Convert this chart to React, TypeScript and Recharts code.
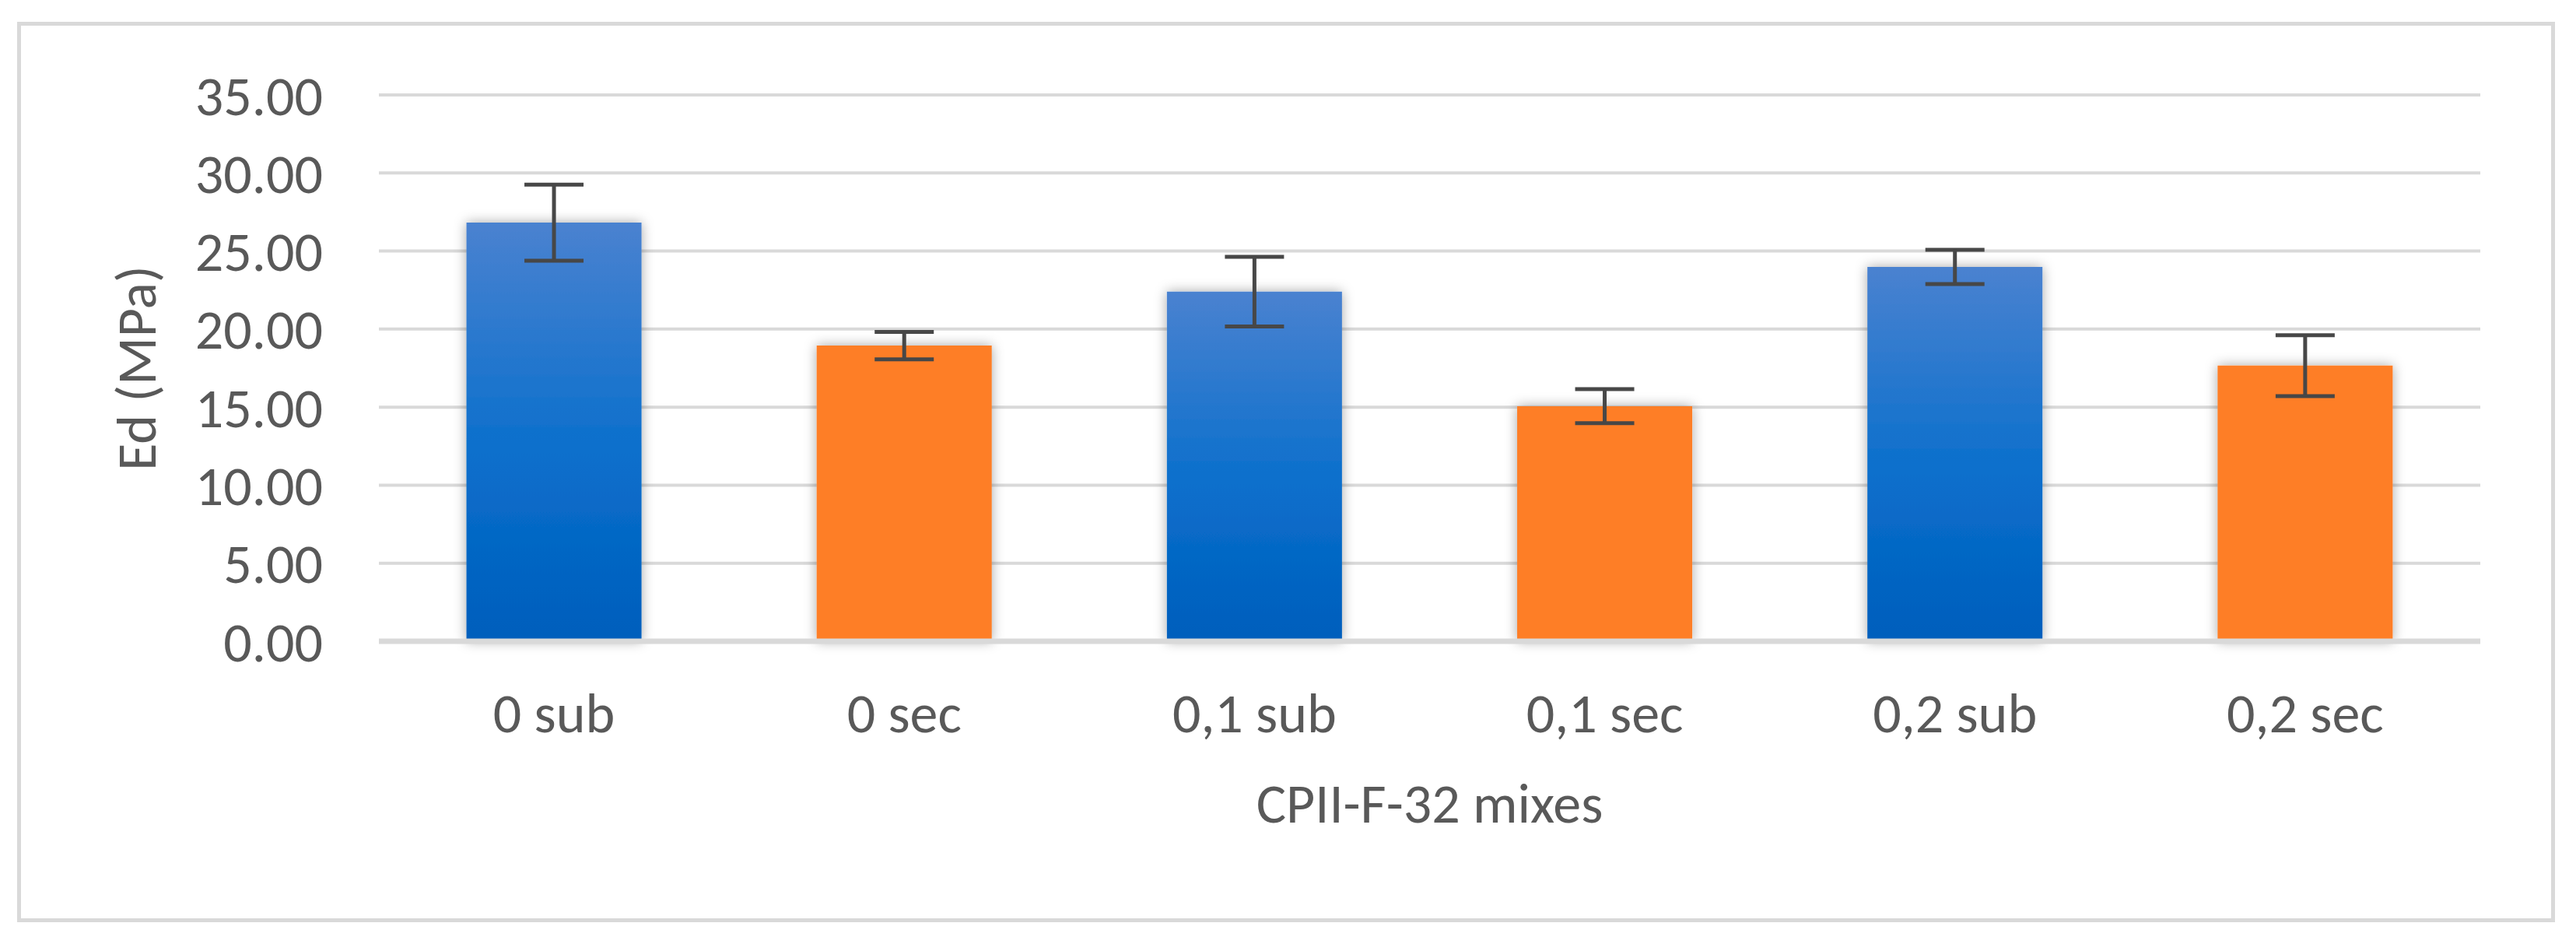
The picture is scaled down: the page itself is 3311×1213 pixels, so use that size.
import React from 'react';
import { BarChart, Bar, XAxis, YAxis, CartesianGrid, ErrorBar, Cell, Label } from 'recharts';

const categories = ['0 sub', '0 sec', '0,1 sub', '0,1 sec', '0,2 sub', '0,2 sec'];
const edValues = [26.82, 18.94, 22.4, 15.06, 23.98, 17.66];
const edErrors = [2.44, 0.88, 2.23, 1.09, 1.1, 1.95];
const yTicks = [0, 5, 10, 15, 20, 25, 30, 35];
const xTitle = 'CPII-F-32 mixes';
const yTitle = 'Ed (MPa)';

const data = categories.map((name, i) => ({ name, ed: edValues[i], err: edErrors[i] }));

const FONT = "Carlito, Calibri, 'Open Sans', sans-serif";
const FS = 72;
const TEXT = '#595959';
const GRID = '#d9d9d9';

const YTitle = (props: any) => {
  const vb = props.viewBox || {};
  const cx = vb.x + vb.width - 287;
  const cy = vb.y + vb.height / 2;
  return (
    <text
      x={cx}
      y={cy}
      transform={`rotate(-90, ${cx}, ${cy})`}
      textAnchor="middle"
      fontFamily={FONT}
      fontSize={FS}
      fill={TEXT}
    >
      {yTitle}
    </text>
  );
};

export default function App() {
  return (
    <div style={{ position: 'absolute', left: 0, top: 0, width: 3311, height: 1213, background: '#fff' }}>
      <div
        style={{
          position: 'absolute',
          left: 22,
          top: 28,
          width: 3262,
          height: 1157,
          border: `5px solid ${GRID}`,
          boxSizing: 'border-box',
        }}
      />
      <div style={{ position: 'absolute', left: 0, top: 0 }}>
        <BarChart
          width={3311}
          height={1213}
          data={data}
          margin={{ top: 122, right: 123, bottom: 289, left: 367 }}
          barCategoryGap="25%"
        >
          <defs>
            <linearGradient id="blueGrad" x1="0" y1="0" x2="0" y2="1">
              <stop offset="0%" stopColor="#4a82d0" />
              <stop offset="55%" stopColor="#0a6fcc" />
              <stop offset="100%" stopColor="#005ebc" />
            </linearGradient>
            <filter id="barShadow" x="-20%" y="-20%" width="140%" height="140%">
              <feDropShadow dx="0" dy="0" stdDeviation="8" floodColor="#000" floodOpacity="0.35" />
            </filter>
          </defs>
          <CartesianGrid vertical={false} stroke={GRID} strokeWidth={4} />
          <XAxis
            dataKey="name"
            interval={0}
            height={100}
            tickLine={false}
            tickSize={0}
            tickMargin={66}
            axisLine={{ stroke: GRID, strokeWidth: 7 }}
            tick={{ fontFamily: FONT, fontSize: FS, fill: TEXT }}
          >
            <Label
              value={xTitle}
              position="bottom"
              offset={82}
              style={{ fontFamily: FONT, fontSize: FS, fill: TEXT }}
            />
          </XAxis>
          <YAxis
            width={120}
            domain={[0, 35]}
            ticks={yTicks}
            interval={0}
            axisLine={false}
            tickLine={false}
            tickSize={0}
            tickMargin={72}
            tickFormatter={(v: number) => v.toFixed(2)}
            tick={{ fontFamily: FONT, fontSize: FS, fill: TEXT }}
          >
            <Label content={<YTitle />} />
          </YAxis>
          <Bar dataKey="ed" isAnimationActive={false} filter="url(#barShadow)">
            {data.map((d, i) => (
              <Cell key={d.name} fill={i % 2 === 0 ? 'url(#blueGrad)' : '#fe7e26'} />
            ))}
            <ErrorBar dataKey="err" width={38} stroke="#474747" strokeWidth={5} direction="y" />
          </Bar>
        </BarChart>
      </div>
    </div>
  );
}
